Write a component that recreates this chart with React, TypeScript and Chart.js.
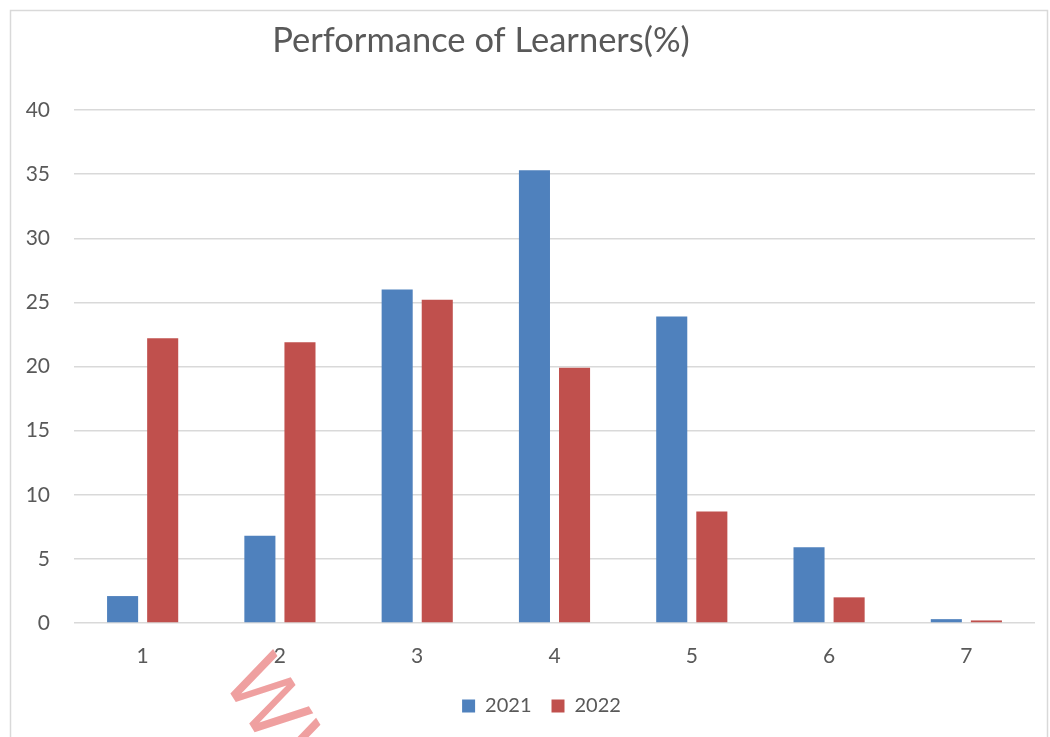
import React, { useEffect, useRef } from "react";
import { Chart, registerables } from "chart.js";

Chart.register(...registerables);

const categories = ["1", "2", "3", "4", "5", "6", "7"];
const series2021 = [2.1, 6.8, 26.0, 35.3, 23.9, 5.9, 0.3];
const series2022 = [22.2, 21.9, 25.2, 19.9, 8.7, 2.0, 0.2];
const seriesLabels = ["2021", "2022"];
const titleText = "Performance of Learners(%)";
const watermarkText = "WW";

const FONT = "Lato, 'Open Sans', sans-serif";
const TEXT = "#595959";

const decorPlugin = {
  id: "decor",
  afterLayout(chart: any) {
    if (chart.legend) {
      chart.legend.left += 24;
      chart.legend.right += 24;
    }
  },
  beforeDraw(chart: any) {
    const ctx = chart.ctx;
    ctx.save();
    ctx.fillStyle = "#ffffff";
    ctx.fillRect(0, 0, chart.width, chart.height);
    ctx.strokeStyle = "#D9D9D9";
    ctx.lineWidth = 1.5;
    ctx.strokeRect(10.5, 10.5, chart.width - 13, chart.height + 10);
    ctx.restore();
  },
  afterDraw(chart: any) {
    const ctx = chart.ctx;
    ctx.save();
    ctx.fillStyle = TEXT;
    ctx.font = `34.5px ${FONT}`;
    ctx.textAlign = "center";
    ctx.textBaseline = "middle";
    ctx.fillText(titleText, 481, 41);
    // watermark
    ctx.translate(282, 736);
    ctx.rotate((58 * Math.PI) / 180);
    ctx.fillStyle = "rgba(232,120,120,0.7)";
    ctx.font = `82px 'DejaVu Sans', sans-serif`;
    ctx.textAlign = "center";
    ctx.fillText(watermarkText, 0, 0);
    ctx.restore();
  },
};

export default function App() {
  const ref = useRef<HTMLCanvasElement>(null);
  useEffect(() => {
    if (!ref.current) return;
    const chart = new Chart(ref.current, {
      type: "bar",
      data: {
        labels: categories,
        datasets: [
          {
            label: seriesLabels[0],
            data: series2021,
            backgroundColor: "#4F81BD",
            categoryPercentage: 0.584,
            barPercentage: 0.775,
          },
          {
            label: seriesLabels[1],
            data: series2022,
            backgroundColor: "#C0504D",
            categoryPercentage: 0.584,
            barPercentage: 0.775,
          },
        ],
      },
      options: {
        animation: false,
        responsive: false,
        maintainAspectRatio: false,
        layout: { padding: { top: 110, right: 15, left: 0, bottom: 11 } },
        plugins: {
          title: { display: false },
          tooltip: { enabled: false },
          legend: {
            position: "bottom",
            labels: {
              color: TEXT,
              font: { family: FONT, size: 20 },
              boxWidth: 13,
              boxHeight: 13,
              padding: 20,
            },
          },
        },
        scales: {
          x: {
            grid: { display: false, drawTicks: false },
            border: { display: false },
            afterFit: (s: any) => {
              s.height = 53;
            },
            ticks: { color: TEXT, font: { family: FONT, size: 21 }, padding: 21 },
          },
          y: {
            min: 0,
            max: 40,
            afterFit: (s: any) => {
              s.width = 74;
            },
            grid: { color: "#D9D9D9", lineWidth: 1.5, drawTicks: false },
            border: { display: false },
            ticks: {
              stepSize: 5,
              color: TEXT,
              font: { family: FONT, size: 21 },
              padding: 24,
            },
          },
        },
      },
      plugins: [decorPlugin],
    });
    return () => chart.destroy();
  }, []);
  return (
    <div style={{ position: "fixed", left: 0, top: 0, width: 1050, height: 737 }}>
      <canvas ref={ref} width={1050} height={737} />
    </div>
  );
}
